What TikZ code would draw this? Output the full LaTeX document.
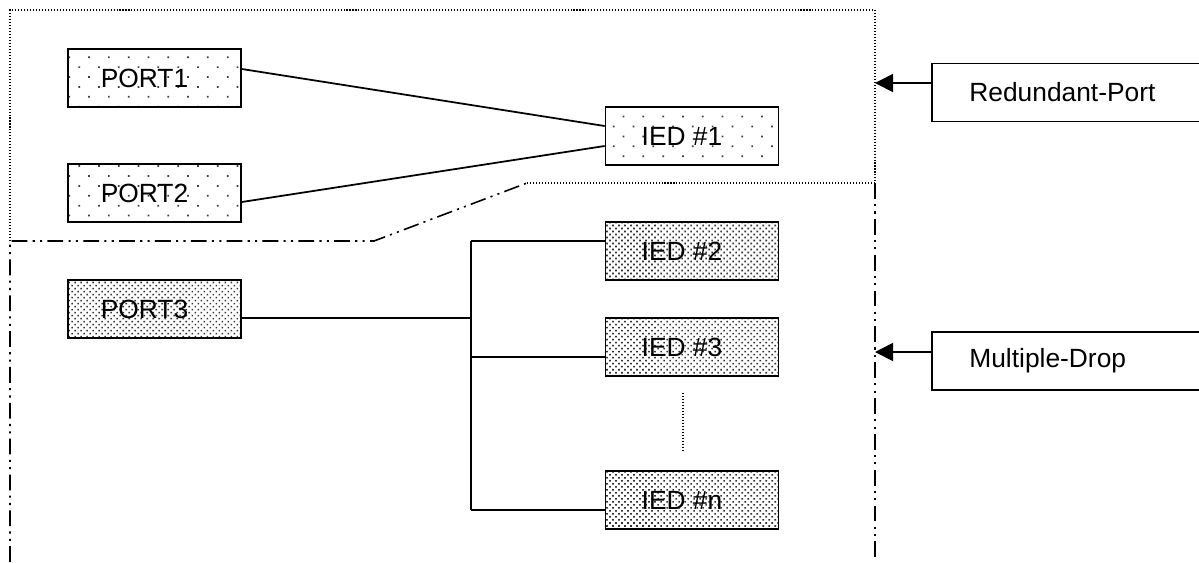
\documentclass[tikz,border=0pt]{standalone}
\usepackage{fontspec}
\setmainfont{Liberation Sans}
\usetikzlibrary{arrows.meta, patterns.meta}

\begin{document}
\begin{tikzpicture}[
    x=0.02cm, y=-0.02cm,
    font=\fontsize{15}{18}\selectfont,
    every node/.style={draw, line width=1pt, inner sep=0pt, minimum width=3.46cm, minimum height=1.16cm,
      execute at end node={\hspace*{0.4cm}}},
    sparse/.style={pattern={Dots[distance=0.28cm, angle=45, radius=0.7pt]}, pattern color=black!75},
    dense/.style={pattern={Dots[distance=0.085cm, angle=45, radius=0.65pt]}, pattern color=black!80},
    tag/.style={anchor=west, minimum width=6.4cm, minimum height=1.16cm, text width=4.9cm, align=left,
      inner xsep=0.74cm, execute at end node={}},
    link/.style={line width=1pt},
    dotline/.style={line width=0.8pt, dash pattern=on 0.6pt off 1.1pt},
    dashdotdot/.style={line width=0.9pt, dash pattern=on 9pt off 3pt on 1.2pt off 3pt on 1.2pt off 3pt},
    arrow/.style={-{Triangle[length=0.36cm, width=0.36cm]}, line width=1pt}
]
\useasboundingbox (0,0) rectangle (1199,562);

% Regions
\draw[dotline] (10,241) -- (10,10) -- (875,10) -- (875,183) -- (527,183);
\draw[dashdotdot] (10,562) -- (10,241) -- (374,241) -- (527,183);
\draw[dashdotdot] (875,183) -- (875,562);

% Nodes
\node (port1) [sparse] at (154.5,78) {PORT1};
\node (port2) [sparse] at (154.5,193) {PORT2};
\node (port3) [dense] at (154.5,309) {PORT3};
\node (ied1) [sparse] at (692,136) {IED \#1};
\node (ied2) [dense] at (692,251) {IED \#2};
\node (ied3) [dense] at (692,347) {IED \#3};
\node (iedn) [dense] at (692,500) {IED \#n};
\node (redundant) [tag] at (931,92.5) {Redundant-Port};
\node (multidrop) [tag] at (931,361) {Multiple-Drop};

% Bus
\coordinate (j2) at (471,241);
\coordinate (jp) at (471,318);
\coordinate (j3) at (471,357);
\coordinate (jn) at (471,510);
\coordinate (rp) at (875,83);
\coordinate (md) at (875,352);

% Lines
\draw [link] ([yshift=.18cm]port1.east) -- ([yshift=.2cm]ied1.west);
\draw [link] ([yshift=-.18cm]port2.east) -- ([yshift=-.2cm]ied1.west);
\draw [link] (port3.east |- jp) -- (jp);
\draw [link] (j2) -- (jn);
\draw [link] (j2) -- (j2 -| ied2.west);
\draw [link] (j3) -- (j3 -| ied3.west);
\draw [link] (jn) -- (jn -| iedn.west);
\draw [dotline] ([xshift=-.18cm, yshift=-.32cm]ied3.south) -- ([xshift=-.18cm, yshift=.36cm]iedn.north);

% Arrows
\draw [arrow] (rp -| redundant.west) -- (rp);
\draw [arrow] (md -| multidrop.west) -- (md);

\end{tikzpicture}
\end{document}
